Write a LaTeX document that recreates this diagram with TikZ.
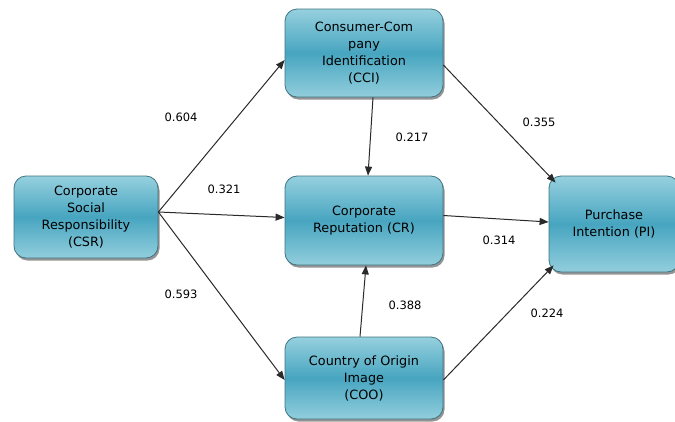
\documentclass[tikz,border=0pt]{standalone}
\usepackage{fontspec}
\setmainfont{DejaVu Sans}
\usetikzlibrary{arrows.meta,shadows}

\definecolor{boxtop}{HTML}{96D0DE}
\definecolor{boxmid}{HTML}{47A5C0}
\definecolor{boxline}{HTML}{3F7482}
\definecolor{arrowcol}{HTML}{2A2A2A}

\tikzset{
  construct/.style={draw=boxline, line width=0.8pt, rounded corners=12pt,
    top color=boxtop, bottom color=boxtop!95!boxmid, middle color=boxmid,
    drop shadow={shadow xshift=1.5pt, shadow yshift=-2.5pt, fill=black!60, opacity=0.7},
    align=center, inner sep=0pt, font=\fontsize{12.8}{17}\selectfont},
  coef/.style={font=\fontsize{11.5}{14}\selectfont, inner sep=0pt},
  path/.style={draw=arrowcol, line width=1pt, -{Triangle[length=9pt,width=7pt]}}
}

\begin{document}
\begin{tikzpicture}[x=1pt,y=-1pt]
  \useasboundingbox (0,0) rectangle (675,421);
 \begin{scope}[every node/.style={construct}]
  \node[minimum width=144pt, minimum height=82pt] (csr) at (86,217)
    {Corporate\\Social\\Responsibility\\(CSR)};
  \node[minimum width=158pt, minimum height=88pt] (cci) at (364,53)
    {Consumer-Com\\pany\\Identification\\(CCI)};
  \node[minimum width=158pt, minimum height=89pt] (cr) at (364,220.5)
    {Corporate\\Reputation (CR)};
  \node[minimum width=158pt, minimum height=82pt] (coo) at (364,378)
    {Country of Origin\\Image\\(COO)};
  \node[minimum width=130pt, minimum height=96pt] (pi) at (614,224)
    {Purchase\\Intention (PI)};
 \end{scope}
 \begin{scope}[every node/.style={coef}]
  \node (c604) at (181,117) {0.604};
  \node (c321) at (224,189) {0.321};
  \node (c593) at (181,294) {0.593};
  \node (c217) at (412,137) {0.217};
  \node (c355) at (539,122) {0.355};
  \node (c314) at (499,240) {0.314};
  \node (c388) at (405,305) {0.388};
  \node (c224) at (547,313) {0.224};
 \end{scope}
  \path ([yshift=5pt]csr.east) edge [path] ([yshift=-7pt]cci.west);
  \path ([yshift=5pt]csr.east) edge [path] ([yshift=3pt]cr.west);
  \path ([yshift=5pt]csr.east) edge [path] ([yshift=-2pt]coo.west);
  \path ([xshift=9pt]cci.south) edge [path] ([xshift=4pt]cr.north);
  \path ([xshift=-4pt]coo.north) edge [path] ([xshift=2pt]cr.south);
  \path ([yshift=-12pt]cci.east) edge [path] ([xshift=7pt,yshift=-7pt]pi.north west);
  \path ([yshift=5pt]cr.east) edge [path] ([yshift=2pt]pi.west);
  \path ([yshift=-2pt]coo.east) edge [path] ([xshift=5pt,yshift=7pt]pi.south west);
\end{tikzpicture}
\end{document}
